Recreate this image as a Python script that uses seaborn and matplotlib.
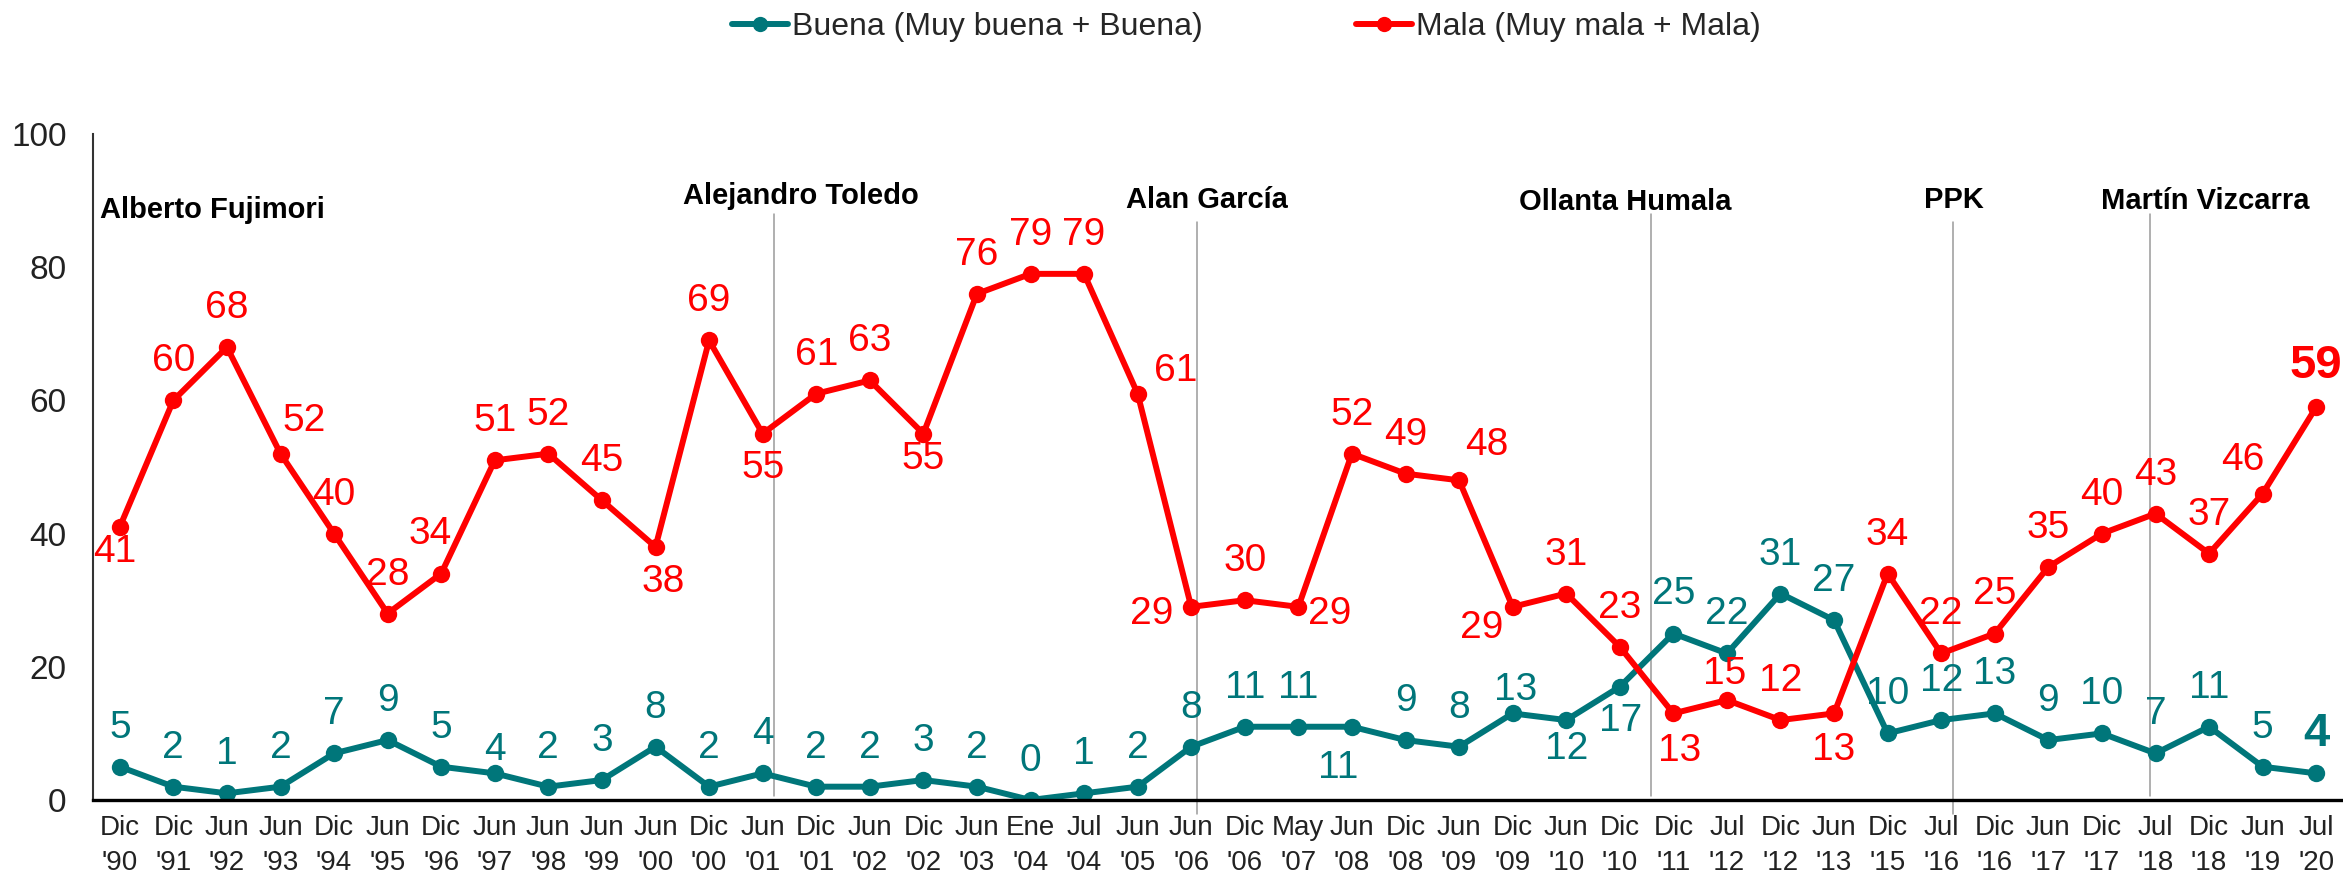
import numpy as np
import pandas as pd
import matplotlib
matplotlib.use("Agg")
import matplotlib.pyplot as plt
import seaborn as sns

# ---------------- data ----------------
months = ["Dic", "Dic", "Jun", "Jun", "Dic", "Jun", "Dic", "Jun", "Jun", "Jun", "Jun",
          "Dic", "Jun", "Dic", "Jun", "Dic", "Jun", "Ene", "Jul", "Jun", "Jun", "Dic",
          "May", "Jun", "Dic", "Jun", "Dic", "Jun", "Dic", "Dic", "Jul", "Dic", "Jun",
          "Dic", "Jul", "Dic", "Jun", "Dic", "Jul", "Dic", "Jun", "Jul"]
years = ["90", "91", "92", "93", "94", "95", "96", "97", "98", "99", "00",
         "00", "01", "01", "02", "02", "03", "04", "04", "05", "06", "06",
         "07", "08", "08", "09", "09", "10", "10", "11", "12", "12", "13",
         "15", "16", "16", "17", "17", "18", "18", "19", "20"]
buena = [5, 2, 1, 2, 7, 9, 5, 4, 2, 3, 8, 2, 4, 2, 2, 3, 2, 0, 1, 2, 8, 11,
         11, 11, 9, 8, 13, 12, 17, 25, 22, 31, 27, 10, 12, 13, 9, 10, 7, 11, 5, 4]
mala = [41, 60, 68, 52, 40, 28, 34, 51, 52, 45, 38, 69, 55, 61, 63, 55, 76, 79, 79, 61, 29, 30,
        29, 52, 49, 48, 29, 31, 23, 13, 15, 12, 13, 34, 22, 25, 35, 40, 43, 37, 46, 59]
series_names = ["Buena (Muy buena + Buena)", "Mala (Muy mala + Mala)"]
presidents = ["Alberto Fujimori", "Alejandro Toledo", "Alan García", "Ollanta Humala",
              "PPK", "Martín Vizcarra"]
yticks = [0, 20, 40, 60, 80, 100]

# ---------------- style ----------------
TEAL = "#00767A"
RED = "#FF0000"
sns.set_style("white")
plt.rcParams["font.family"] = ["Liberation Sans", "DejaVu Sans"]

labels = [f"{m}\n'{y}" for m, y in zip(months, years)]
n = len(labels)
idx = np.arange(n)
df = pd.DataFrame({
    "x": np.concatenate([idx, idx]),
    "valor": buena + mala,
    "serie": [series_names[0]] * n + [series_names[1]] * n,
})

fig = plt.figure(figsize=(23.43, 8.77), dpi=100)
ax = fig.add_axes([93 / 2343, 1 - 800 / 877, 1 - 93 / 2343, (800 - 134) / 877])

sns.lineplot(data=df, x="x", y="valor", hue="serie", palette=[TEAL, RED],
             marker="o", markersize=12.5, markeredgewidth=0, linewidth=4.3, ax=ax,
             sort=False)

handles, leg_labels = ax.get_legend_handles_labels()
ax.get_legend().remove()
leg = fig.legend(handles, leg_labels, ncol=2, loc="center", bbox_to_anchor=(0.532, 0.969),
                 frameon=False, fontsize=23, handlelength=1.75, handletextpad=0.12,
                 columnspacing=4.8)
for h in leg.legend_handles:
    h.set_linewidth(4.3)
    h.set_markersize(11)
    h.set_markeredgewidth(0)

ax.set_xlim(-0.5, n - 0.5)
ax.set_ylim(0, 100)
ax.set_xticks(idx)
ax.set_xticklabels(labels, fontsize=20, linespacing=1.45, color="#222222")
ax.set_yticks(yticks)
ax.set_yticklabels([str(t) for t in yticks], fontsize=24, color="#222222")
ax.set_xlabel("")
ax.set_ylabel("")
ax.tick_params(axis="x", direction="in", length=6, width=1.5, color="black", pad=11)
ax.tick_params(axis="y", direction="in", length=7, width=1.5, color="#333333", pad=19)
for s in ["top", "right"]:
    ax.spines[s].set_visible(False)
ax.spines["bottom"].set_linewidth(2.4)
ax.spines["bottom"].set_color("black")
ax.spines["left"].set_linewidth(1.5)
ax.spines["left"].set_color("#333333")

# value labels: default above point, with specific offsets (pixels)
default_off = (0, 39)
mala_off = {0: (-5, -25), 3: (24, 33), 6: (-11, 40), 10: (8, -35), 12: (0, -34),
            15: (0, -25), 19: (38, 23), 20: (-40, -7), 22: (31, -7), 25: (28, 35),
            26: (-31, -21), 29: (6, -38), 30: (-2, 26), 32: (0, -37), 40: (-20, 34),
            41: (0, 41)}
buena_off = {7: (0, 23), 23: (-14, -41), 26: (3, 23), 27: (0, -29), 28: (1, -34)}

for vals, offs, col in [(buena, buena_off, TEAL), (mala, mala_off, RED)]:
    for i, v in enumerate(vals):
        off = offs.get(i, default_off)
        last = i == n - 1
        ax.annotate(str(v), (i, v), xytext=off, textcoords="offset pixels",
                    ha="center", va="center", color=col,
                    fontsize=34 if last else 28,
                    fontweight="bold" if last else "normal", clip_on=False)

# president separators and names
sep_x = [12.22, 20.11, 28.58, 34.22, 37.89]
sep_top = [88.0, 86.8, 88.0, 86.8, 88.0]
sep_bottom = [0.6, -2.1, 0.6, -2.1, 0.6]
for x, t, b in zip(sep_x, sep_top, sep_bottom):
    ax.plot([x, x], [b, t], color="#9a9a9a", linewidth=1.1, clip_on=False, zorder=1)

pres_x = [-0.37, 12.72, 20.3, 28.1, 34.23, 38.92]
pres_y = [88.6, 90.7, 90.1, 89.8, 90.1, 90.0]
pres_ha = ["left", "center", "center", "center", "center", "center"]
for name, x, y, ha in zip(presidents, pres_x, pres_y, pres_ha):
    ax.text(x, y, name, ha=ha, va="center", fontsize=21, fontweight="bold", color="black")

fig.savefig("out.png", dpi=100)
